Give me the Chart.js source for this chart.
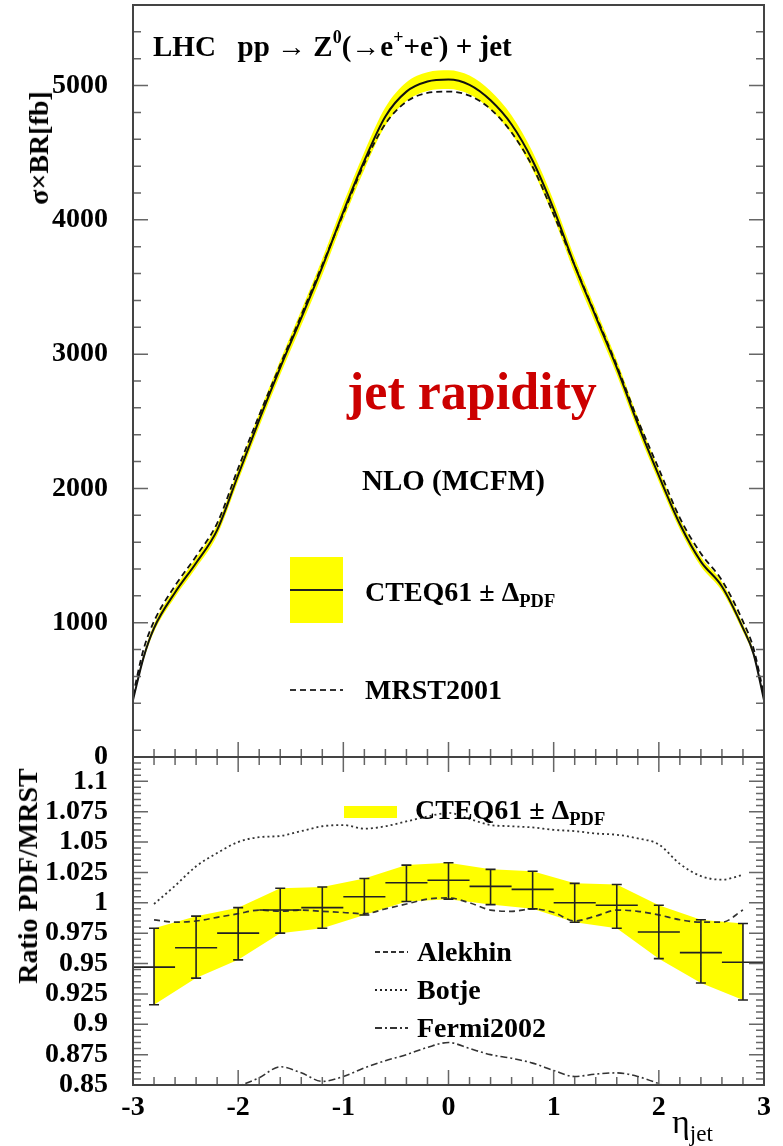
<!DOCTYPE html>
<html>
<head>
<meta charset="utf-8">
<title>Z + jet rapidity</title>
<script src="https://cdn.jsdelivr.net/npm/chart.js@4.4.1/dist/chart.umd.min.js"></script>
<style>
  body { margin: 0; background: #fff; }
  #page { position: relative; width: 783px; height: 1146px; overflow: hidden;
          font-family: "Liberation Serif", "Times New Roman", serif; font-weight: bold; color: #000; }
  canvas { position: absolute; left: 0; }
  #cTop { top: 0; }
  #cRatio { top: 750px; }
  .t { position: absolute; white-space: nowrap; line-height: 1; transform: translateY(-50%); }
  .t sup { font-size: 62%; vertical-align: 0.7em; line-height: 0; }
  .t sub { font-size: 66%; vertical-align: -0.35em; line-height: 0; }
  .rot { position: absolute; white-space: nowrap; line-height: 1; transform: translate(-50%, -50%) rotate(-90deg); }
  .sw { position: absolute; }
</style>
</head>
<body>
<div id="page">
  <canvas id="cTop" width="783" height="775"></canvas>
  <canvas id="cRatio" width="783" height="396"></canvas>

  <!-- texte du panneau du haut -->
  <div class="t" style="left:153px;top:46px;font-size:29px">LHC&nbsp;&nbsp;&nbsp;pp → Z<sup>0</sup>(→e<sup>+</sup>+e<sup>-</sup>) + jet</div>
  <div class="t" style="left:347px;top:392px;font-size:52px;color:#cc0000">jet rapidity</div>
  <div class="t" style="left:362px;top:480px;font-size:29px">NLO (MCFM)</div>
  <div class="sw" style="left:290px;top:557px;width:53px;height:66px;background:#ffff00"></div>
  <div class="sw" style="left:290px;top:589px;width:53px;height:2px;background:#222"></div>
  <div class="t" style="left:365px;top:592px;font-size:28px">CTEQ61 ± Δ<sub>PDF</sub></div>
  <svg class="sw" style="left:290px;top:685px" width="53" height="10"><line x1="0" y1="5" x2="53" y2="5" stroke="#333" stroke-width="2" stroke-dasharray="6,4"/></svg>
  <div class="t" style="left:365px;top:690px;font-size:28px">MRST2001</div>
  <div class="rot" style="left:39px;top:148px;font-size:28px">σ×BR[fb]</div>

  <!-- texte du panneau ratio -->
  <div class="sw" style="left:344px;top:806px;width:53px;height:12px;background:#ffff00"></div>
  <div class="t" style="left:415px;top:810px;font-size:28px">CTEQ61 ± Δ<sub>PDF</sub></div>
  <svg class="sw" style="left:375px;top:947px" width="33" height="10"><line x1="0" y1="5" x2="33" y2="5" stroke="#333" stroke-width="2" stroke-dasharray="5,3"/></svg>
  <div class="t" style="left:417px;top:952px;font-size:28px">Alekhin</div>
  <svg class="sw" style="left:375px;top:985px" width="33" height="10"><line x1="0" y1="5" x2="33" y2="5" stroke="#222" stroke-width="2" stroke-dasharray="2,3"/></svg>
  <div class="t" style="left:417px;top:990px;font-size:28px">Botje</div>
  <svg class="sw" style="left:375px;top:1023px" width="33" height="10"><line x1="0" y1="5" x2="33" y2="5" stroke="#333" stroke-width="2" stroke-dasharray="7,3,2,3"/></svg>
  <div class="t" style="left:417px;top:1028px;font-size:28px">Fermi2002</div>
  <div class="rot" style="left:28px;top:876px;font-size:28px">Ratio PDF/MRST</div>
  <div class="t" style="left:672px;top:1122px;font-size:34px;font-weight:normal">η<sub style="font-size:68%">jet</sub></div>
</div>

<script>
// --- section efficace (panneau du haut)
const etaCurve = [-3, -2.9, -2.8, -2.6, -2.4, -2.2, -2, -1.8, -1.6, -1.4, -1.2, -1, -0.8, -0.6, -0.4, -0.2,
  0, 0.2, 0.4, 0.6, 0.8, 1, 1.2, 1.4, 1.6, 1.8, 2, 2.2, 2.4, 2.6, 2.8, 2.9, 3];
const cteq = [425, 740, 960, 1225, 1445, 1690, 2100, 2510, 2900, 3270, 3650, 4060, 4440, 4770, 4955, 5030,
  5045, 5005, 4890, 4710, 4440, 4080, 3660, 3280, 2900, 2480, 2095, 1735, 1455, 1270, 960, 770, 425];
const cteqErr = [15, 22, 28, 33, 36, 40, 45, 50, 54, 57, 60, 63, 66, 68, 70, 70,
  70, 70, 70, 68, 66, 63, 60, 57, 54, 50, 45, 40, 36, 33, 28, 22, 15];
const mrst = [460, 800, 1010, 1275, 1495, 1740, 2150, 2545, 2920, 3290, 3665, 4045, 4420, 4715, 4880, 4945,
  4955, 4925, 4825, 4650, 4395, 4040, 3660, 3290, 2915, 2510, 2145, 1780, 1515, 1315, 1010, 810, 460];
const sigmaTicks = [0, 1000, 2000, 3000, 4000, 5000];

// --- rapport PDF/MRST (panneau du bas)
const binWidth = 0.4;
const etaBins = [-2.8, -2.4, -2, -1.6, -1.2, -0.8, -0.4, 0, 0.4, 0.8, 1.2, 1.6, 2, 2.4, 2.8];
const ratioCteq = [0.947, 0.963, 0.975, 0.994, 0.996, 1.005, 1.0165, 1.0185, 1.0135, 1.011, 1.0, 0.998, 0.976, 0.959, 0.951];
const ratioHi = [0.979, 0.989, 0.996, 1.012, 1.013, 1.02, 1.031, 1.033, 1.0275, 1.026, 1.016, 1.015, 0.998, 0.986, 0.983];
const ratioLo = [0.916, 0.938, 0.953, 0.975, 0.979, 0.99, 1.001, 1.003, 0.9985, 0.995, 0.984, 0.979, 0.954, 0.934, 0.92];

const etaRatio = [-2.8, -2.6, -2.4, -2.2, -2, -1.8, -1.6, -1.4, -1.2, -1, -0.8, -0.6, -0.4, -0.2,
  0, 0.2, 0.4, 0.6, 0.8, 1, 1.2, 1.4, 1.6, 1.8, 2, 2.2, 2.4, 2.6, 2.8];
const alekhin = [0.986, 0.984, 0.985, 0.988, 0.991, 0.994, 0.993, 0.994, 0.993, 0.992, 0.991, 0.995, 0.999, 1.003,
  1.004, 1.0, 0.994, 0.993, 0.995, 0.992, 0.985, 0.989, 0.994, 0.993, 0.99, 0.986, 0.984, 0.984, 0.994];
const botje = [0.999, 1.014, 1.03, 1.041, 1.05, 1.054, 1.055, 1.059, 1.063, 1.064, 1.061, 1.063, 1.067, 1.071,
  1.074, 1.069, 1.064, 1.063, 1.062, 1.06, 1.059, 1.057, 1.056, 1.053, 1.048, 1.032, 1.022, 1.019, 1.023];
const fermi2002 = [null, null, null, 0.843, 0.849, 0.856, 0.865, 0.86, 0.853, 0.857, 0.864, 0.87, 0.875, 0.881,
  0.885, 0.88, 0.875, 0.872, 0.868, 0.862, 0.857, 0.859, 0.86, 0.857, 0.851, 0.843, null, null, null];
const ratioTicks = [0.85, 0.875, 0.9, 0.925, 0.95, 0.975, 1, 1.025, 1.05, 1.075, 1.1];
const etaTicks = [-3, -2, -1, 0, 1, 2, 3];

const pts = (xs, ys) => xs.map((x, i) => ({ x, y: ys[i] }));
const tickFont = { family: "'Liberation Serif', serif", size: 28, weight: "bold" };
const YELLOW = "#ffff00";

// cadre + graduations internes facon ROOT
const rootAxes = {
  id: "rootAxes",
  afterDatasetsDraw(chart, args, o) {
    const { ctx, chartArea: a, scales } = chart;
    const marks = (scale, minor, major) => {
      const out = [];
      const k0 = Math.ceil(scale.min / minor - 1e-6);
      const k1 = Math.floor(scale.max / minor + 1e-6);
      for (let k = k0; k <= k1; k++) {
        const v = k * minor;
        const big = Math.abs(v / major - Math.round(v / major)) < 1e-6;
        out.push([scale.getPixelForValue(v), big]);
      }
      return out;
    };
    ctx.save();
    ctx.strokeStyle = "#666";
    ctx.lineWidth = 1.5;
    ctx.beginPath();
    marks(scales.y, o.yMinor, o.yMajor).forEach(([p, big]) => {
      const len = big ? 15 : 8;
      ctx.moveTo(a.left, p); ctx.lineTo(a.left + len, p);
      ctx.moveTo(a.right, p); ctx.lineTo(a.right - len, p);
    });
    marks(scales.x, o.xMinor, o.xMajor).forEach(([p, big]) => {
      const len = big ? 15 : 8;
      ctx.moveTo(p, a.bottom); ctx.lineTo(p, a.bottom - len);
      if (o.top) { ctx.moveTo(p, a.top); ctx.lineTo(p, a.top + len); }
    });
    ctx.stroke();
    ctx.strokeStyle = "#444";
    ctx.lineWidth = 2;
    ctx.strokeRect(a.left, a.top, a.right - a.left, a.bottom - a.top);
    ctx.restore();
  },
};

// barres d'erreur du rapport CTEQ61/MRST
const binErrors = {
  id: "binErrors",
  afterDatasetsDraw(chart) {
    const { ctx, chartArea: a, scales: { x, y } } = chart;
    ctx.save();
    ctx.beginPath();
    ctx.rect(a.left, a.top, a.right - a.left, a.bottom - a.top);
    ctx.clip();
    ctx.strokeStyle = "#222";
    ctx.lineWidth = 1.6;
    ctx.beginPath();
    etaBins.forEach((e, i) => {
      const px = x.getPixelForValue(e);
      const pl = x.getPixelForValue(e - binWidth / 2);
      const pr = x.getPixelForValue(e + binWidth / 2);
      const pc = y.getPixelForValue(ratioCteq[i]);
      const ph = y.getPixelForValue(ratioHi[i]);
      const pb = y.getPixelForValue(ratioLo[i]);
      ctx.moveTo(pl, pc); ctx.lineTo(pr, pc);
      ctx.moveTo(px, ph); ctx.lineTo(px, pb);
      ctx.moveTo(px - 5, ph); ctx.lineTo(px + 5, ph);
      ctx.moveTo(px - 5, pb); ctx.lineTo(px + 5, pb);
    });
    ctx.stroke();
    ctx.restore();
  },
};

const line = (data, extra) => Object.assign({
  data, borderColor: "#111", borderWidth: 1.8, pointRadius: 0, fill: false,
  cubicInterpolationMode: "monotone", order: 1,
}, extra);

// largeur fixe de l'axe y, sans marge verticale ajoutee par les labels
const fixY = (s) => { s.width = 133; s.paddingTop = 0; s.paddingBottom = 0; };

const common = {
  responsive: false,
  devicePixelRatio: 1,
  animation: false,
  events: [],
  plugins: { legend: { display: false }, tooltip: { enabled: false }, filler: { drawTime: "beforeDatasetsDraw" } },
};

// Panneau du haut : sigma x BR
new Chart(document.getElementById("cTop"), {
  type: "line",
  data: {
    datasets: [
      line(pts(etaCurve, cteq.map((v, i) => v + cteqErr[i])), { borderWidth: 0, fill: "+1", backgroundColor: YELLOW, order: 3 }),
      line(pts(etaCurve, cteq.map((v, i) => v - cteqErr[i])), { borderWidth: 0, order: 3 }),
      line(pts(etaCurve, cteq), { borderWidth: 2 }),
      line(pts(etaCurve, mrst), { borderDash: [6, 4], borderWidth: 1.8 }),
    ],
  },
  options: {
    ...common,
    layout: { padding: { top: 5, right: 19, bottom: 18, left: 0 } },
    scales: {
      x: { type: "linear", min: -3, max: 3, display: false },
      y: {
        type: "linear", min: 0, max: 5600,
        grid: { display: false, drawTicks: false }, border: { display: false },
        afterBuildTicks: (s) => { s.ticks = sigmaTicks.map((v) => ({ value: v })); },
        afterFit: fixY,
        ticks: { font: tickFont, color: "#000", padding: 25, autoSkip: false, callback: (v) => String(v) },
      },
    },
    plugins: { ...common.plugins, rootAxes: { yMinor: 200, yMajor: 1000, xMinor: 0.2, xMajor: 1 } },
  },
  plugins: [rootAxes],
});

// Panneau du bas : rapport PDF/MRST
new Chart(document.getElementById("cRatio"), {
  type: "line",
  data: {
    datasets: [
      line(pts(etaBins, ratioHi), { borderWidth: 0, fill: "+1", backgroundColor: YELLOW, cubicInterpolationMode: "default", tension: 0, order: 3 }),
      line(pts(etaBins, ratioLo), { borderWidth: 0, cubicInterpolationMode: "default", tension: 0, order: 3 }),
      line(pts(etaRatio, alekhin), { borderDash: [6, 4], borderWidth: 1.7, borderColor: "#333" }),
      line(pts(etaRatio, botje), { borderDash: [2, 3], borderWidth: 1.8, borderColor: "#333" }),
      line(pts(etaRatio, fermi2002), { borderDash: [7, 3, 2, 3], borderWidth: 1.6, borderColor: "#333" }),
    ],
  },
  options: {
    ...common,
    layout: { padding: { top: 7, right: 19, bottom: 0, left: 0 } },
    scales: {
      x: {
        type: "linear", min: -3, max: 3,
        grid: { display: false, drawTicks: false }, border: { display: false },
        afterBuildTicks: (s) => { s.ticks = etaTicks.map((v) => ({ value: v })); },
        afterFit: (s) => { s.height = 61; s.paddingLeft = 0; s.paddingRight = 0; },
        ticks: { font: tickFont, color: "#000", padding: 6, maxRotation: 0, autoSkip: false },
      },
      y: {
        type: "linear", min: 0.85, max: 1.12,
        grid: { display: false, drawTicks: false }, border: { display: false },
        afterBuildTicks: (s) => { s.ticks = ratioTicks.map((v) => ({ value: v })); },
        afterFit: fixY,
        ticks: { font: tickFont, color: "#000", padding: 25, autoSkip: false, callback: (v) => String(v) },
      },
    },
    plugins: { ...common.plugins, rootAxes: { yMinor: 0.005, yMajor: 0.025, xMinor: 0.2, xMajor: 1, top: true } },
  },
  plugins: [binErrors, rootAxes],
});
</script>
</body>
</html>
